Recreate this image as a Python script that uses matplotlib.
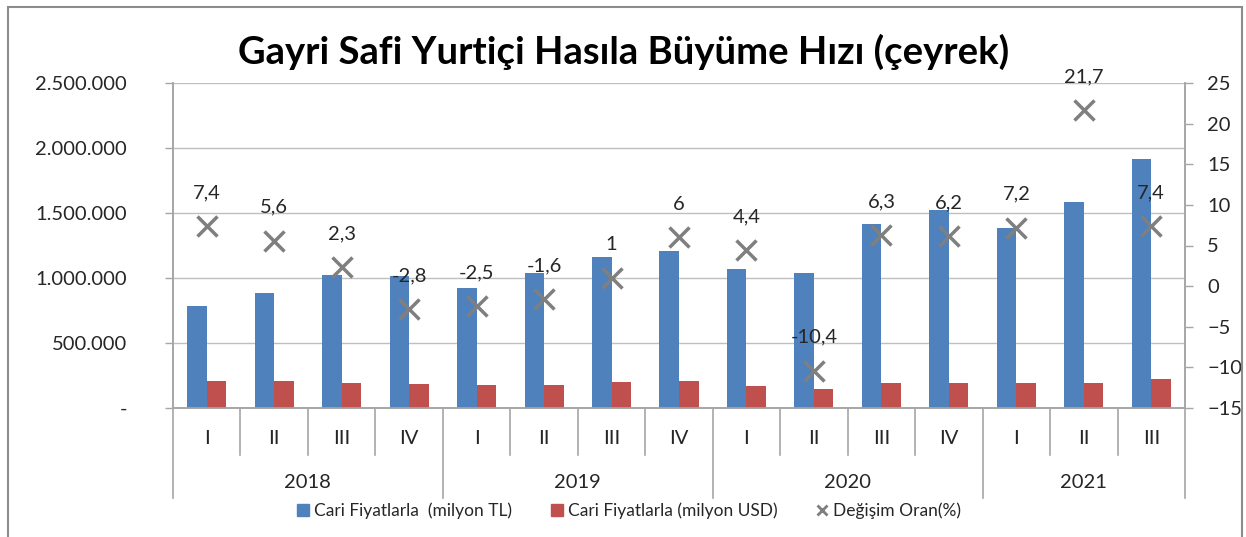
import matplotlib
matplotlib.use("Agg")
import matplotlib.pyplot as plt
from matplotlib.lines import Line2D
from matplotlib.patches import Patch, Rectangle
import numpy as np

plt.rcParams["font.family"] = ["Lato", "DejaVu Sans"]

TITLE = "Gayri Safi Yurtiçi Hasıla Büyüme Hızı (çeyrek)"
years = ["2018", "2019", "2020", "2021"]
quarters = ["I", "II", "III", "IV", "I", "II", "III", "IV",
            "I", "II", "III", "IV", "I", "II", "III"]
quarters_per_year = [4, 4, 4, 3]

# milyon TL, current prices
gdp_tl = [787000, 887000, 1023000, 1015000, 921000, 1038000, 1162000, 1208000,
          1067000, 1041000, 1415000, 1523000, 1387000, 1585000, 1918000]
# milyon USD, current prices
gdp_usd = [210000, 210000, 190000, 182000, 175000, 175000, 197000, 205000,
           172000, 146000, 190000, 190000, 190000, 190000, 223000]
# growth rate (%)
change = [7.4, 5.6, 2.3, -2.8, -2.5, -1.6, 1, 6, 4.4, -10.4, 6.3, 6.2, 7.2, 21.7, 7.4]
change_labels = ["7,4", "5,6", "2,3", "-2,8", "-2,5", "-1,6", "1", "6", "4,4",
                 "-10,4", "6,3", "6,2", "7,2", "21,7", "7,4"]

left_ticks = [0, 500000, 1000000, 1500000, 2000000, 2500000]
left_labels = ["-", "500.000", "1.000.000", "1.500.000", "2.000.000", "2.500.000"]
right_ticks = [-15, -10, -5, 0, 5, 10, 15, 20, 25]

legend_names = ["Cari Fiyatlarla  (milyon TL)", "Cari Fiyatlarla (milyon USD)",
                "Değişim Oran(%)"]

BLUE = "#4F81BD"
RED = "#C0504D"
GREY = "#7F7F7F"
AXIS = "#A6A6A6"
TEXT = "#262626"

W, H = 1246, 537
fig = plt.figure(figsize=(W / 100, H / 100), dpi=100)
ax = fig.add_axes([173 / W, 1 - 408 / H, (1185 - 173) / W, 325 / H])
ax2 = ax.twinx()

x = np.arange(len(quarters))
bw = 0.29
ax.bar(x - bw / 2, gdp_tl, bw, color=BLUE, zorder=3)
ax.bar(x + bw / 2, gdp_usd, bw, color=RED, zorder=3)

ax.set_xlim(-0.5, len(quarters) - 0.5)
ax.set_ylim(0, 2500000)
ax.set_yticks(left_ticks)
ax.set_yticklabels(left_labels)
ax.set_xticks([])
ax.grid(axis="y", color="#BFBFBF", linewidth=1.0, zorder=0)
ax.tick_params(axis="y", length=6, width=1, color=AXIS, pad=27,
               labelsize=14.5, labelcolor=TEXT)

ax2.plot(x, change, linestyle="none", marker="x", markersize=14,
         markeredgewidth=2.5, color=GREY, zorder=4)
for xi, v, lab in zip(x, change, change_labels):
    ax2.annotate(lab, (xi, v), xytext=(0, 24), textcoords="offset points",
                 ha="center", va="center", fontsize=14.5, color=TEXT)
ax2.set_ylim(-15, 25)
ax2.set_yticks(right_ticks)
ax2.tick_params(axis="y", length=6, width=1, color=AXIS, pad=10,
                labelsize=14.5, labelcolor=TEXT)

for a in (ax, ax2):
    a.spines["top"].set_visible(False)
    for s in ("left", "right", "bottom"):
        a.spines[s].set_color(AXIS)
        a.spines[s].set_linewidth(1.2)

# multi-level category axis
trans = ax.get_xaxis_transform()
px = 1 / 325
year_edges = np.concatenate([[0], np.cumsum(quarters_per_year)]) - 0.5
for b in np.arange(0.5, len(quarters) - 0.5):
    if b not in year_edges:
        ax.plot([b, b], [0, -47 * px], transform=trans, color=AXIS,
                linewidth=1.2, clip_on=False)
for b in year_edges:
    ax.plot([b, b], [0, -90 * px], transform=trans, color=AXIS,
            linewidth=1.2, clip_on=False)
for xi, q in zip(x, quarters):
    ax.text(xi, -31 * px, q, transform=trans, ha="center", va="center",
            fontsize=14.5, color=TEXT)
for i, y in enumerate(years):
    mid = (year_edges[i] + year_edges[i + 1]) / 2
    ax.text(mid, -75 * px, y, transform=trans, ha="center", va="center",
            fontsize=14.5, color=TEXT)

fig.text(624 / W, 1 - 52 / H, TITLE, ha="center", va="center",
         fontsize=27.5, fontweight="bold", color="black")

handles = [Patch(color=BLUE), Patch(color=RED),
           Line2D([], [], linestyle="none", marker="x", color=GREY,
                  markersize=7, markeredgewidth=2)]
fig.legend(handles, legend_names, loc="center", bbox_to_anchor=(629 / W, 1 - 511 / H),
           ncol=3, frameon=False, fontsize=12.5, handlelength=0.7, handleheight=0.7,
           handletextpad=0.3, columnspacing=2.2, labelcolor=TEXT)

fig.patches.append(Rectangle((8 / W, -0.05), 1234 / W, 1 - 7 / H + 0.05,
                             transform=fig.transFigure, fill=False,
                             edgecolor="#8C8C8C", linewidth=1.5))

fig.savefig("out.png", dpi=100)
